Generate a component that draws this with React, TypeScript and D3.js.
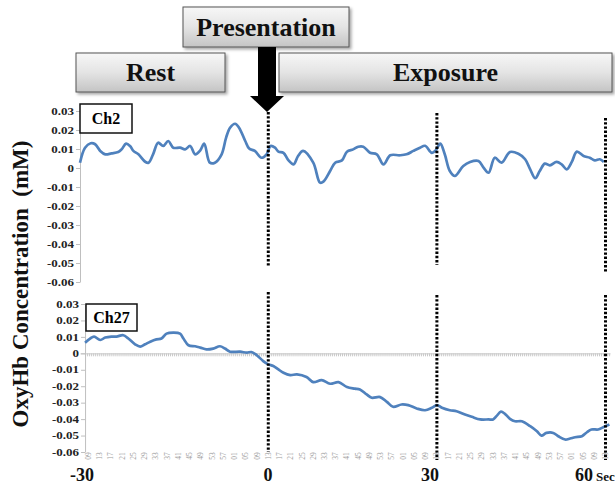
import React, { useEffect, useRef } from 'react'
import * as d3 from 'd3'

// Ch2 trace (seconds from presentation, mM)
const topTime = [-33.5,-32.6,-31.6,-30.8,-29.9,-29.0,-27.9,-26.7,-26.1,-25.3,
  -24.6,-24.0,-23.1,-21.9,-21.3,-20.5,-19.6,-18.7,-17.8,-16.9,
  -15.7,-14.8,-13.9,-13.0,-12.1,-11.4,-10.4,-9.5,-8.3,-7.5,
  -6.8,-5.9,-5.2,-4.1,-3.4,-2.4,-1.2,-0.3,0.4,1.2,
  1.8,2.7,3.6,4.5,5.3,6.2,8.0,9.2,9.8,11.0,
  11.9,13.1,14.0,15.1,16.0,16.9,18.1,19.3,20.5,21.7,
  23.4,24.6,25.8,27.0,27.9,29.1,29.8,30.6,31.4,32.3,
  33.2,34.7,35.9,37.4,38.3,39.2,40.3,41.5,43.0,44.5,
  45.7,46.6,47.5,48.3,49.2,50.1,51.3,52.2,53.1,54.0,
  54.9,56.1,57.2,58.1,59.0,59.7]
const topValue = [0.0028,0.0107,0.013,0.0125,0.009,0.0072,0.0077,0.0084,0.0098,0.0128,
  0.0116,0.009,0.0072,0.0033,0.0028,0.0072,0.0133,0.0116,0.0142,0.0107,
  0.0107,0.0098,0.0116,0.0072,0.0093,0.0128,0.0028,0.0028,0.0072,0.016,
  0.0212,0.0233,0.0212,0.0142,0.0102,0.009,0.0054,0.0072,0.0116,0.0107,
  0.0086,0.008,0.004,0.0019,0.0063,0.009,0.0028,-0.0077,-0.0072,-0.0016,
  0.0028,0.004,0.0086,0.0098,0.0112,0.0112,0.008,0.0072,0.0019,0.0067,
  0.0067,0.0072,0.009,0.0107,0.0117,0.008,0.0093,0.0128,0.0072,-0.0016,
  -0.0042,0.0011,0.0032,0.0037,0.0002,-0.0025,0.0054,0.0028,0.0084,0.0075,
  0.0046,-0.0007,-0.0054,-0.0016,0.0023,0.0014,0.0032,0.0019,-0.0007,0.0032,
  0.0086,0.0063,0.0054,0.004,0.0046,0.0032]

// Ch27 trace
const bottomTime = [-32.6,-31.7,-31.0,-29.9,-29.0,-27.9,-27.0,-25.8,-24.9,-23.7,
  -22.8,-21.9,-21.0,-19.9,-19.0,-18.1,-16.9,-15.7,-15.1,-14.2,
  -13.0,-12.1,-11.0,-9.8,-8.6,-7.7,-6.8,-5.0,-3.8,-3.0,
  -2.1,-0.9,0.0,0.9,1.8,2.7,3.9,5.1,6.8,8.0,
  9.5,11.0,12.5,14.0,15.4,16.3,17.5,18.4,19.9,21.1,
  22.2,23.7,24.9,26.4,27.9,29.1,30.0,30.9,32.3,33.5,
  35.0,36.2,37.7,39.2,40.0,40.6,41.4,42.1,43.0,43.9,
  45.1,46.6,47.8,48.6,49.5,50.7,51.6,52.8,53.7,54.6,
  55.8,56.7,57.5,58.7,59.6,60.7]
const bottomValue = [0.0065,0.009,0.0102,0.0081,0.0096,0.0102,0.0102,0.011,0.009,0.0055,
  0.0041,0.0055,0.0071,0.0085,0.009,0.012,0.0126,0.012,0.009,0.0049,
  0.0043,0.0035,0.0024,0.0029,0.0043,0.0029,0.001,0.001,0.0004,0.0008,
  -0.001,-0.0047,-0.0067,-0.0077,-0.0098,-0.0118,-0.0132,-0.0128,-0.0144,-0.0175,
  -0.0163,-0.0185,-0.0175,-0.0205,-0.0215,-0.022,-0.025,-0.027,-0.0266,-0.0295,
  -0.0325,-0.0311,-0.0315,-0.0335,-0.0346,-0.0331,-0.0315,-0.0331,-0.0346,-0.0352,
  -0.0372,-0.0386,-0.0402,-0.0402,-0.0402,-0.0382,-0.0355,-0.0368,-0.0398,-0.0413,
  -0.0413,-0.0443,-0.0474,-0.05,-0.0484,-0.0484,-0.0504,-0.0524,-0.0518,-0.051,
  -0.0504,-0.048,-0.0463,-0.0463,-0.0449,-0.0433]

const yTicks = [0.03, 0.02, 0.01, 0, -0.01, -0.02, -0.03, -0.04, -0.05, -0.06]
const markerTimes = [0, 30, 60]
const timeLabels = ['-30', '0', '30', '60']
const sampleLabels = ['09','13','17','21','25','29','33','37','41','45','49','53','57','01','05','09',
  '13','17','21','25','29','33','37','41','45','49','53','57','01','05','09',
  '13','17','21','25','29','33','37','41','45','49','53','57','01','05','09','13']

const W = 615, H = 486
const serif = '"Liberation Serif", "Times New Roman", serif'
const blue = '#4f81bd'

const x = d3.scaleLinear().domain([-33.5, 60.8]).range([80, 610])
const yTop = d3.scaleLinear().domain([-0.06, 0.03]).range([282, 111])
const yBot = d3.scaleLinear().domain([-0.06, 0.03]).range([452, 304])

const fmt = (v: number) => (v === 0 ? '0' : v.toFixed(2))

function Header({ x0, y0, w, h, label, ty }: any) {
  return (
    <g>
      <rect x={x0} y={y0} width={w} height={h} fill="url(#boxGrad)" stroke="#555" strokeWidth={1} filter="url(#shadow)" />
      <text x={x0 + w / 2} y={ty} textAnchor="middle" fontFamily={serif} fontWeight="bold" fontSize={26} fill="#111">{label}</text>
    </g>
  )
}

export default function App() {
  const topAxis = useRef<SVGGElement>(null)
  const botAxis = useRef<SVGGElement>(null)
  const zeroAxis = useRef<SVGGElement>(null)

  useEffect(() => {
    const styleAxis = (g: any) => {
      g.select('.domain').attr('stroke', '#bfbfbf')
      g.selectAll('.tick line').attr('stroke', '#bfbfbf')
      // labels in the figure are stretched sideways
      g.selectAll('.tick text')
        .attr('font-family', serif).attr('font-weight', 'bold')
        .attr('font-size', 10).attr('fill', '#222')
        .attr('x', -6 / 1.3)
        .attr('transform', 'scale(1.3,1)')
    }
    const left = (s: any) => d3.axisLeft(s).tickValues(yTicks).tickSize(4).tickPadding(3)
      .tickSizeOuter(0).tickFormat((d: any) => fmt(d))
    d3.select(topAxis.current).call(left(yTop) as any).call(styleAxis)
    d3.select(botAxis.current).call(left(yBot) as any).call(styleAxis)

    const z = d3.select(zeroAxis.current)
    z.call(d3.axisBottom(x).tickValues(d3.range(-32.6, 61, 0.36)).tickSize(3).tickSizeOuter(0)
      .tickFormat(() => '') as any)
    z.select('.domain').attr('stroke', '#c8c8c8')
    z.selectAll('.tick line').attr('stroke', '#c8c8c8')
  }, [])

  const topLine = d3.line<number>()
    .x((_, i) => x(topTime[i])).y(d => yTop(d)).curve(d3.curveCatmullRom)
  const botLine = d3.line<number>()
    .x((_, i) => x(bottomTime[i])).y(d => yBot(d)).curve(d3.curveCatmullRom)

  const sampleTimes = d3.range(-32, 61, 2)
  const labelX = [82, 268, 430]

  return (
    <svg width={W} height={H} style={{ position: 'absolute', left: 0, top: 0, background: '#fff' }}>
      <defs>
        <linearGradient id="boxGrad" x1="0" y1="0" x2="0" y2="1">
          <stop offset="0" stopColor="#f7f7f7" />
          <stop offset="0.5" stopColor="#e4e4e4" />
          <stop offset="1" stopColor="#c4c4c4" />
        </linearGradient>
        <filter id="shadow" x="-10%" y="-20%" width="130%" height="160%">
          <feDropShadow dx="2" dy="2" stdDeviation="1.5" floodColor="#000" floodOpacity="0.35" />
        </filter>
      </defs>

      <Header x0={183} y0={7} w={166} h={40} label="Presentation" ty={36} />
      <Header x0={76} y0={53} w={149} h={39} label="Rest" ty={81} />
      <Header x0={279} y0={53} w={333} h={39} label="Exposure" ty={81} />

      {/* arrow */}
      <path d={`M258,47 L276,47 L276,96 L284,96 L267,112 L250,96 L258,96 Z`} fill="#000" />

      <text transform={`translate(28,284) rotate(-90)`} textAnchor="middle" fontFamily={serif}
        fontWeight="bold" fontSize={23} fill="#111" style={{ whiteSpace: 'pre' }}>OxyHb Concentration  (mM)</text>

      {/* top panel */}
      <g ref={topAxis} transform={`translate(${x(-33.5)},0)`} />
      <path d={topLine(topValue) || ''} fill="none" stroke={blue} strokeWidth={2.7} strokeLinejoin="round" />
      <rect x={80} y={104} width={52} height={29} fill="#fff" stroke="#111" strokeWidth={1.5} />
      <text x={106} y={124} textAnchor="middle" fontFamily={serif} fontWeight="bold" fontSize={16}>Ch2</text>
      {markerTimes.map((t, i) => (
        <line key={'tm' + t} x1={x(t)} x2={x(t)} y1={[112, 113, 118][i]} y2={[266, 265, 273][i]}
          stroke="#000" strokeWidth={3} strokeDasharray="2.4 1.8" />
      ))}

      {/* bottom panel */}
      <g ref={zeroAxis} transform={`translate(0,${yBot(0)})`} />
      <g ref={botAxis} transform={`translate(${x(-32.6)},0)`} />
      <path d={botLine(bottomValue) || ''} fill="none" stroke={blue} strokeWidth={2.7} strokeLinejoin="round" />
      <rect x={86} y={304} width={51} height={27} fill="#fff" stroke="#111" strokeWidth={1.5} />
      <text x={111.5} y={323} textAnchor="middle" fontFamily={serif} fontWeight="bold" fontSize={16}>Ch27</text>
      {markerTimes.map((t, i) => (
        <line key={'bm' + t} x1={x(t)} x2={x(t)} y1={[292, 295, 295][i]} y2={[452, 460, 460][i]}
          stroke="#000" strokeWidth={3} strokeDasharray="2.4 1.8" />
      ))}

      {sampleTimes.map((t, i) => (
        <text key={'s' + i} transform={`translate(${x(t) + 2.5},456) rotate(-90)`} textAnchor="middle"
          fontFamily={serif} fontSize={7.5} fill="#a0a0a0">{sampleLabels[i]}</text>
      ))}

      {timeLabels.slice(0, 3).map((l, i) => (
        <text key={l} x={labelX[i]} y={481} textAnchor="middle" fontFamily={serif} fontWeight="bold" fontSize={18} fill="#111">{l}</text>
      ))}
      <text x={575} y={481} fontFamily={serif} fontWeight="bold" fontSize={18} fill="#111">
        {timeLabels[3]}<tspan fontSize={13} dx={3}>Sec</tspan>
      </text>
    </svg>
  )
}
